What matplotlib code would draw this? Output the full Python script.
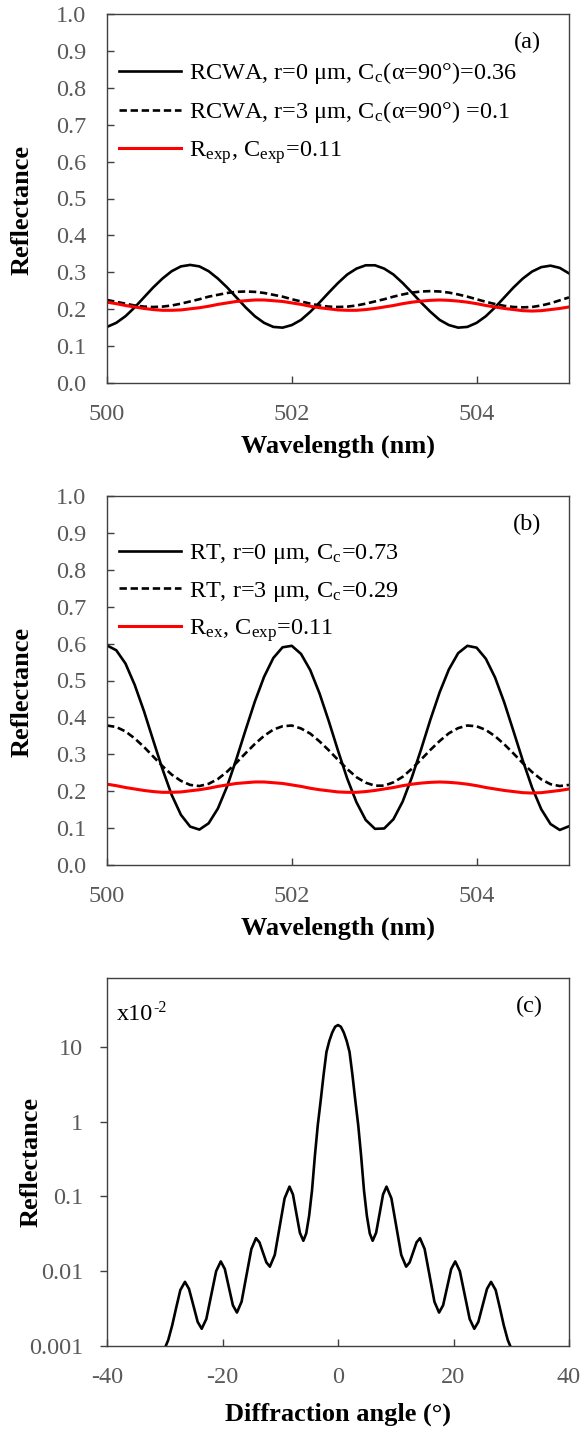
import matplotlib
matplotlib.use('Agg')
import matplotlib.pyplot as plt
from matplotlib.ticker import FixedLocator, FixedFormatter, NullLocator

plt.rcParams['font.family'] = 'Liberation Serif'
plt.rcParams['mathtext.fontset'] = 'stix'
plt.rcParams['axes.unicode_minus'] = False

# ---- data ----
wavelength = [500.0, 500.1, 500.2, 500.3, 500.4, 500.5, 500.6, 500.7, 500.8, 500.9,
              501.0, 501.1, 501.2, 501.3, 501.4, 501.5, 501.6, 501.7, 501.8, 501.9,
              502.0, 502.1, 502.2, 502.3, 502.4, 502.5, 502.6, 502.7, 502.8, 502.9,
              503.0, 503.1, 503.2, 503.3, 503.4, 503.5, 503.6, 503.7, 503.8, 503.9,
              504.0, 504.1, 504.2, 504.3, 504.4, 504.5, 504.6, 504.7, 504.8, 504.9,
              505.0]

# (a) RCWA
rcwa_r0 = [0.152, 0.163, 0.181, 0.205, 0.232, 0.259, 0.283, 0.303, 0.316, 0.320,
           0.316, 0.303, 0.283, 0.259, 0.232, 0.205, 0.181, 0.163, 0.152, 0.150,
           0.157, 0.171, 0.193, 0.218, 0.245, 0.271, 0.294, 0.310, 0.319, 0.319,
           0.310, 0.294, 0.271, 0.245, 0.218, 0.193, 0.171, 0.157, 0.150, 0.152,
           0.163, 0.181, 0.205, 0.232, 0.259, 0.283, 0.302, 0.314, 0.318, 0.312,
           0.297]
rcwa_r3 = [0.225, 0.220, 0.215, 0.210, 0.207, 0.206, 0.207, 0.210, 0.215, 0.221,
           0.227, 0.234, 0.239, 0.244, 0.247, 0.248, 0.247, 0.244, 0.239, 0.234,
           0.227, 0.221, 0.215, 0.210, 0.207, 0.206, 0.207, 0.210, 0.215, 0.221,
           0.227, 0.234, 0.240, 0.245, 0.248, 0.249, 0.248, 0.245, 0.240, 0.234,
           0.227, 0.220, 0.214, 0.209, 0.206, 0.205, 0.206, 0.210, 0.216, 0.224,
           0.232]

# (b) ray tracing
rt_r0 = [0.595, 0.582, 0.546, 0.488, 0.417, 0.338, 0.260, 0.190, 0.136, 0.104,
         0.096, 0.113, 0.153, 0.213, 0.287, 0.366, 0.443, 0.510, 0.561, 0.590,
         0.594, 0.572, 0.528, 0.465, 0.390, 0.310, 0.234, 0.170, 0.122, 0.098,
         0.099, 0.124, 0.172, 0.238, 0.314, 0.394, 0.468, 0.530, 0.574, 0.594,
         0.589, 0.559, 0.508, 0.440, 0.362, 0.283, 0.210, 0.151, 0.111, 0.095,
         0.105]
rt_r3 = [0.378, 0.374, 0.362, 0.343, 0.320, 0.294, 0.268, 0.245, 0.228, 0.217,
         0.214, 0.220, 0.233, 0.253, 0.277, 0.303, 0.328, 0.350, 0.367, 0.376,
         0.378, 0.370, 0.356, 0.335, 0.311, 0.285, 0.260, 0.238, 0.223, 0.215,
         0.215, 0.224, 0.239, 0.261, 0.286, 0.312, 0.336, 0.357, 0.371, 0.378,
         0.376, 0.366, 0.349, 0.327, 0.302, 0.276, 0.252, 0.232, 0.219, 0.214,
         0.217]

# experiment (same in a and b)
r_exp = [0.219, 0.215, 0.210, 0.206, 0.202, 0.199, 0.197, 0.197, 0.198, 0.201,
         0.204, 0.208, 0.213, 0.217, 0.221, 0.223, 0.225, 0.225, 0.223, 0.221,
         0.217, 0.213, 0.208, 0.204, 0.201, 0.198, 0.197, 0.197, 0.199, 0.202,
         0.206, 0.210, 0.215, 0.219, 0.222, 0.224, 0.225, 0.224, 0.222, 0.219,
         0.215, 0.210, 0.206, 0.202, 0.199, 0.196, 0.195, 0.196, 0.199, 0.202,
         0.206]

# (c) diffraction pattern, reflectance in units of 1e-2
angle = [-30.6, -30.0, -29.4, -28.7, -28.0, -27.3, -26.5, -25.8, -25.05, -24.3,
         -23.6, -22.8, -21.95, -21.1, -20.3, -19.6, -18.9, -18.2, -17.5, -16.7,
         -15.85, -15.0, -14.2, -13.6, -13.0, -12.4, -11.8, -10.95, -10.1, -9.25,
         -8.4, -7.8, -7.2, -6.6, -6.0, -5.5, -5.0, -4.5, -4.0, -3.5,
         -3.0, -2.5, -2.0, -1.5, -1.0, -0.5, 0.0,
         0.5, 1.0, 1.5, 2.0, 2.5, 3.0, 3.5, 4.0, 4.5, 5.0,
         5.5, 6.0, 6.6, 7.2, 7.8, 8.4, 9.25, 10.1, 10.95, 11.8,
         12.4, 13.0, 13.6, 14.2, 15.0, 15.85, 16.7, 17.5, 18.2, 18.9,
         19.6, 20.3, 21.1, 21.95, 22.8, 23.6, 24.3, 25.05, 25.8, 26.5,
         27.3, 28.0, 28.7, 29.4, 30.0, 30.6]
refl_angle = [0.0007, 0.00093, 0.0012, 0.0019, 0.0033, 0.0056, 0.0072, 0.0058, 0.0035, 0.0021,
              0.0017, 0.0023, 0.0048, 0.0100, 0.0135, 0.0107, 0.0061, 0.0035, 0.0028, 0.0039,
              0.0088, 0.0198, 0.0276, 0.0243, 0.0178, 0.0131, 0.0115, 0.0165, 0.0394, 0.094,
              0.135, 0.106, 0.0586, 0.0326, 0.0255, 0.032, 0.055, 0.12, 0.35, 0.9,
              1.9, 4.2, 8.5, 12.0, 15.5, 18.5, 19.5,
              18.5, 15.5, 12.0, 8.5, 4.2, 1.9, 0.9, 0.35, 0.12, 0.055,
              0.032, 0.0255, 0.0326, 0.0586, 0.106, 0.135, 0.094, 0.0394, 0.0165, 0.0115,
              0.0131, 0.0178, 0.0243, 0.0276, 0.0198, 0.0088, 0.0039, 0.0028, 0.0035, 0.0061,
              0.0107, 0.0135, 0.0100, 0.0048, 0.0023, 0.0017, 0.0021, 0.0035, 0.0058, 0.0072,
              0.0056, 0.0033, 0.0019, 0.0012, 0.00093, 0.0007]

labels_a = ['RCWA, r=0 μm, C$_\\mathregular{c}$(α=90°)=0.36',
            'RCWA, r=3 μm, C$_\\mathregular{c}$(α=90°) =0.1',
            'R$_\\mathregular{exp}$, C$_\\mathregular{exp}$=0.11']
labels_b = ['RT, r=0 μm, C$_\\mathregular{c}$=0.73',
            'RT, r=3 μm, C$_\\mathregular{c}$=0.29',
            'R$_\\mathregular{ex}$, C$_\\mathregular{exp}$=0.11']

GREY = '#595959'
SPINE = '#404040'
FS = 17.5
LFS = 19

W, H = 583, 1429
fig = plt.figure(figsize=(W / 100, H / 100), dpi=100)


def panel(top, bottom):
    ax = fig.add_axes([107 / W, 1 - bottom / H, 462 / W, (bottom - top) / H])
    for s in ax.spines.values():
        s.set_color(SPINE)
        s.set_linewidth(1.0)
    return ax


def wave_panel(ax, r0, r3, labels, tag):
    ax.plot(wavelength, r0, color='black', lw=1.9, label=labels[0])
    ax.plot(wavelength, r3, color='black', lw=1.9, ls=(0, (2.8, 1.4)), label=labels[1])
    ax.plot(wavelength, r_exp, color='#ff0000', lw=2.2, label=labels[2])
    ax.set_xlim(500, 505)
    ax.set_ylim(0, 1)
    ax.set_xticks([500, 502, 504])
    ax.set_yticks([i / 10 for i in range(11)])
    ax.set_yticklabels(['%.1f' % (i / 10) for i in range(11)])
    ax.tick_params(direction='in', length=5, width=1, color=SPINE, labelcolor=GREY,
                   labelsize=FS)
    ax.tick_params(axis='y', pad=15)
    ax.tick_params(axis='x', pad=15)
    ax.set_xlabel('Wavelength (nm)', fontsize=LFS, fontweight='bold')
    ax.set_ylabel('Reflectance', fontsize=LFS, fontweight='bold')
    ax.xaxis.set_label_coords(0.5, -0.14)
    ax.yaxis.set_label_coords(-0.16, 0.47)
    ax.legend(loc='upper left', bbox_to_anchor=(0.025, 0.875), frameon=False,
              fontsize=FS, handlelength=2.55, handletextpad=0.35, labelspacing=0.55,
              borderpad=0, borderaxespad=0)
    ax.text(0.91, 0.922, tag, transform=ax.transAxes, fontsize=FS,
            ha='center', va='center')


ax_a = panel(14, 383)
wave_panel(ax_a, rcwa_r0, rcwa_r3, labels_a, '(a)')

ax_b = panel(496, 865)
wave_panel(ax_b, rt_r0, rt_r3, labels_b, '(b)')

ax_c = panel(978, 1346)
ax_c.plot(angle, refl_angle, color='black', lw=1.9)
ax_c.set_yscale('log')
ax_c.set_xlim(-40, 40)
ax_c.set_ylim(0.001, 83)
ax_c.set_xticks([-40, -20, 0, 20, 40])
ax_c.yaxis.set_major_locator(FixedLocator([0.001, 0.01, 0.1, 1, 10]))
ax_c.yaxis.set_major_formatter(FixedFormatter(['0.001', '0.01', '0.1', '1', '10']))
ax_c.yaxis.set_minor_locator(NullLocator())
ax_c.tick_params(axis='x', direction='in', length=5, width=1, color=SPINE,
                 labelcolor=GREY, labelsize=FS, pad=15)
ax_c.tick_params(axis='y', direction='out', length=5, width=1, color=SPINE,
                 labelcolor=GREY, labelsize=FS, pad=12)
ax_c.set_xlabel('Diffraction angle (°)', fontsize=LFS, fontweight='bold')
ax_c.set_ylabel('Reflectance', fontsize=LFS, fontweight='bold')
ax_c.xaxis.set_label_coords(0.5, -0.155)
ax_c.yaxis.set_label_coords(-0.14, 0.5)
# "x10" with a raised "-2" (hyphen, as in the original)
ax_c.text(0.022, 0.9, 'x10', transform=ax_c.transAxes,
          fontsize=FS, ha='left', va='center')
ax_c.text(0.101, 0.918, '-2', transform=ax_c.transAxes,
          fontsize=11.5, ha='left', va='center')
ax_c.text(0.915, 0.922, '(c)', transform=ax_c.transAxes, fontsize=FS,
          ha='center', va='center')

fig.savefig('out.png', dpi=100)
